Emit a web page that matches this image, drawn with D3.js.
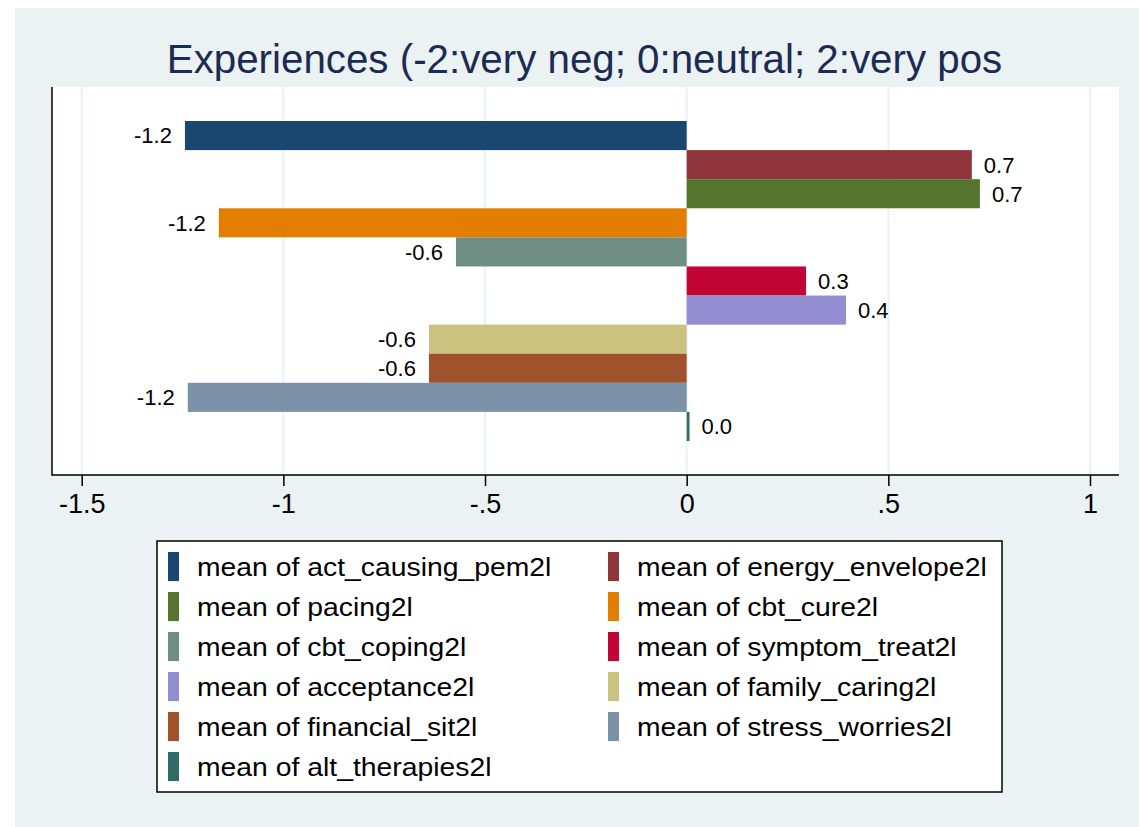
<!DOCTYPE html>
<html>
<head>
<meta charset="utf-8">
<script src="https://cdn.jsdelivr.net/npm/d3@7"></script>
<style>
  html, body { margin: 0; padding: 0; background: #ffffff; }
  svg { display: block; font-family: "Liberation Sans", Arial, Helvetica, sans-serif; }
</style>
</head>
<body>
<svg id="chart" width="1139" height="827"></svg>
<script>
// ---- data ----
const titleText = "Experiences (-2:very neg; 0:neutral; 2:very pos";
const seriesNames = [
  "act_causing_pem2l", "energy_envelope2l", "pacing2l", "cbt_cure2l",
  "cbt_coping2l", "symptom_treat2l", "acceptance2l", "family_caring2l",
  "financial_sit2l", "stress_worries2l", "alt_therapies2l"
];
const seriesValues = [-1.244, 0.707, 0.727, -1.16, -0.572, 0.296, 0.395, -0.639, -0.639, -1.237, 0.007];
const seriesColors = ["#1a476f", "#90353b", "#55752f", "#e37e00", "#6e8e84", "#c10534",
                      "#938dd2", "#cac27e", "#a0522d", "#7b92a8", "#2d6d66"];
const xTicks = [-1.5, -1, -0.5, 0, 0.5, 1];
const xTickLabels = ["-1.5", "-1", "-.5", "0", ".5", "1"];

// ---- layout ----
const svg = d3.select("#chart");
const bgColor = "#eaf2f3";
const plot = { left: 52, right: 1119, top: 87, bottom: 475 };

svg.append("rect").attr("x", 15).attr("y", 8).attr("width", 1139 - 15).attr("height", 827 - 8)
  .attr("fill", bgColor);
svg.append("rect").attr("x", plot.left).attr("y", plot.top)
  .attr("width", plot.right - plot.left).attr("height", plot.bottom - plot.top)
  .attr("fill", "#ffffff");

const x = d3.scaleLinear().domain([-1.5, 1]).range([81.7, 1090]);
const y = d3.scaleBand().domain(seriesNames).range([121, 441]).paddingInner(0).paddingOuter(0);

// gridlines
svg.append("g").selectAll("line").data(xTicks).join("line")
  .attr("x1", d => x(d)).attr("x2", d => x(d))
  .attr("y1", plot.top).attr("y2", plot.bottom)
  .attr("stroke", bgColor).attr("stroke-width", 2);

// bars
svg.append("g").selectAll("rect").data(seriesNames).join("rect")
  .attr("x", (d, i) => Math.min(x(0), x(seriesValues[i])))
  .attr("width", (d, i) => Math.max(2.5, Math.abs(x(seriesValues[i]) - x(0))))
  .attr("y", d => y(d))
  .attr("height", y.bandwidth())
  .attr("fill", (d, i) => seriesColors[i]);

// value labels
const fmt = v => { const s = d3.format(".1f")(v).replace("\u2212", "-"); return s === "-0.0" ? "0.0" : s; };
svg.append("g").selectAll("text").data(seriesNames).join("text")
  .attr("x", (d, i) => seriesValues[i] < 0 ? x(seriesValues[i]) - 13 : Math.max(x(seriesValues[i]), x(0) + 2.5) + 12)
  .attr("y", d => y(d) + y.bandwidth() / 2)
  .attr("dy", "0.36em")
  .attr("text-anchor", (d, i) => seriesValues[i] < 0 ? "end" : "start")
  .attr("font-size", 22)
  .attr("fill", "#000")
  .text((d, i) => fmt(seriesValues[i]));

// axes lines
svg.append("line").attr("x1", plot.left).attr("x2", plot.left).attr("y1", plot.top).attr("y2", plot.bottom + 0.75)
  .attr("stroke", "#000").attr("stroke-width", 1.5);

const xAxis = d3.axisBottom(x).tickValues(xTicks).tickSize(11).tickPadding(8)
  .tickFormat((d, i) => xTickLabels[i]);
const gx = svg.append("g").attr("transform", `translate(0,${plot.bottom})`).call(xAxis);
gx.select(".domain").attr("d", `M${plot.left},0H${plot.right}`).attr("stroke", "#000").attr("stroke-width", 1.5);
gx.selectAll(".tick line").attr("stroke", "#000").attr("stroke-width", 1.5);
gx.selectAll(".tick text").attr("font-size", 27).attr("font-family", "Liberation Sans, Arial, sans-serif").attr("fill", "#000");

// title
svg.append("text").attr("x", (plot.left + plot.right) / 2 - 1).attr("y", 72.5)
  .attr("text-anchor", "middle").attr("font-size", 40.3).attr("fill", "#1c2b52")
  .text(titleText);

// legend
const leg = svg.append("g");
leg.append("rect").attr("x", 157).attr("y", 541).attr("width", 1002 - 157).attr("height", 792 - 541)
  .attr("fill", "#fff").attr("stroke", "#000").attr("stroke-width", 1.5);
const colX = [168, 608];
const items = leg.selectAll("g.item").data(seriesNames).join("g").attr("class", "item")
  .attr("transform", (d, i) => `translate(${colX[i % 2]},${552 + 40 * Math.floor(i / 2)})`);
items.append("rect").attr("width", 11).attr("height", y.bandwidth())
  .attr("fill", (d, i) => seriesColors[i]);
items.append("text")
  .attr("transform", `translate(29,${y.bandwidth() / 2}) scale(1.09,1)`)
  .attr("dy", "0.36em")
  .attr("font-size", 26).attr("fill", "#000")
  .text(d => "mean of " + d);
</script>
</body>
</html>
